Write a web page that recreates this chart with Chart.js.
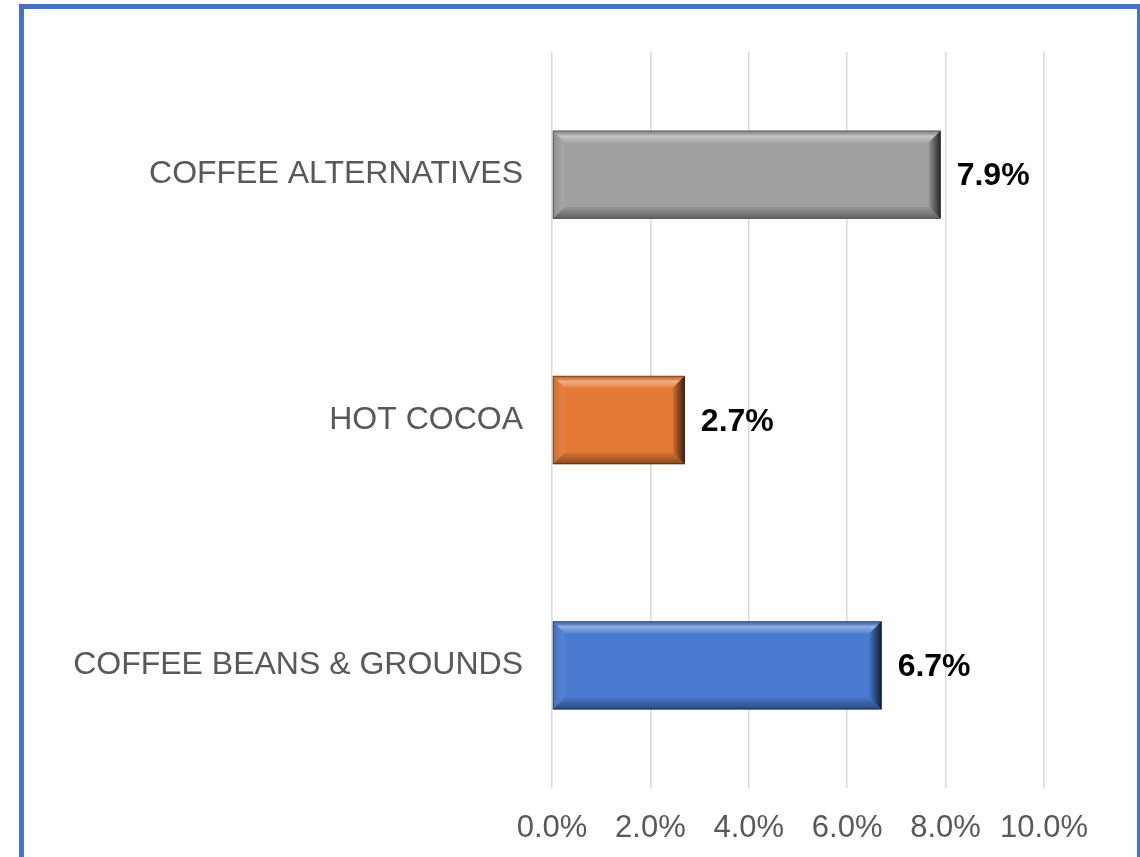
<!DOCTYPE html>
<html>
<head>
<meta charset="utf-8">
<script src="https://cdn.jsdelivr.net/npm/chart.js@4/dist/chart.umd.min.js"></script>
<style>
  html, body { margin: 0; padding: 0; background: #ffffff; overflow: hidden; }
  #frame {
    position: absolute; left: 19px; top: 4px; width: 1123px; height: 900px;
    border: 5px solid #4472c4; box-sizing: border-box; pointer-events: none;
  }
  #wrap { position: absolute; left: 0; top: 0; width: 1140px; height: 857px; }
</style>
</head>
<body>
<div id="wrap"><canvas id="chart"></canvas></div>
<div id="frame"></div>
<script>
// Categories listed top to bottom
const categories = ['COFFEE ALTERNATIVES', 'HOT COCOA', 'COFFEE BEANS & GROUNDS'];
// Share values in percent
const shares = [7.9, 2.7, 6.7];
const barColors = ['#a0a0a0', '#e47a36', '#4a7bd0'];
const xTickValues = [0, 2, 4, 6, 8, 10];

// Beveled look for each bar, drawn on top of the bar rectangles
const bevelPlugin = {
  id: 'bevel',
  afterDatasetsDraw(chart) {
    const ctx = chart.ctx;
    chart.getDatasetMeta(0).data.forEach((bar) => {
      const p = bar.getProps(['x', 'y', 'base', 'height'], true);
      const l = Math.min(p.base, p.x), r = Math.max(p.base, p.x);
      const t = p.y - p.height / 2, b = p.y + p.height / 2;
      const w = 12;
      ctx.save();
      // top facet
      let g = ctx.createLinearGradient(0, t, 0, t + w);
      g.addColorStop(0, 'rgba(0,0,0,0.10)');
      g.addColorStop(0.45, 'rgba(255,255,255,0.40)');
      g.addColorStop(1, 'rgba(255,255,255,0.08)');
      ctx.fillStyle = g;
      ctx.beginPath();
      ctx.moveTo(l, t); ctx.lineTo(r, t); ctx.lineTo(r - w, t + w); ctx.lineTo(l + w, t + w); ctx.closePath();
      ctx.fill();
      // bottom facet
      g = ctx.createLinearGradient(0, b - w, 0, b);
      g.addColorStop(0, 'rgba(0,0,0,0.05)');
      g.addColorStop(1, 'rgba(0,0,0,0.40)');
      ctx.fillStyle = g;
      ctx.beginPath();
      ctx.moveTo(l, b); ctx.lineTo(r, b); ctx.lineTo(r - w, b - w); ctx.lineTo(l + w, b - w); ctx.closePath();
      ctx.fill();
      // left facet
      g = ctx.createLinearGradient(l, 0, l + w, 0);
      g.addColorStop(0, 'rgba(0,0,0,0.12)');
      g.addColorStop(1, 'rgba(255,255,255,0.06)');
      ctx.fillStyle = g;
      ctx.beginPath();
      ctx.moveTo(l, t); ctx.lineTo(l + w, t + w); ctx.lineTo(l + w, b - w); ctx.lineTo(l, b); ctx.closePath();
      ctx.fill();
      // right facet
      g = ctx.createLinearGradient(r - w, 0, r, 0);
      g.addColorStop(0, 'rgba(0,0,0,0.08)');
      g.addColorStop(1, 'rgba(0,0,0,0.75)');
      ctx.fillStyle = g;
      ctx.beginPath();
      ctx.moveTo(r, t); ctx.lineTo(r - w, t + w); ctx.lineTo(r - w, b - w); ctx.lineTo(r, b); ctx.closePath();
      ctx.fill();
      // thin outline
      ctx.strokeStyle = 'rgba(0,0,0,0.35)';
      ctx.lineWidth = 1;
      ctx.strokeRect(l + 0.5, t + 0.5, r - l - 1, b - t - 1);
      ctx.restore();
    });
  }
};

// Value labels at the end of each bar
const valueLabelPlugin = {
  id: 'valueLabels',
  afterDatasetsDraw(chart) {
    const ctx = chart.ctx;
    const data = chart.data.datasets[0].data;
    chart.getDatasetMeta(0).data.forEach((bar, i) => {
      const p = bar.getProps(['x', 'y'], true);
      ctx.save();
      ctx.font = 'bold 32px "Liberation Sans", Arial, sans-serif';
      ctx.fillStyle = '#000000';
      ctx.textAlign = 'left';
      ctx.textBaseline = 'middle';
      ctx.fillText(data[i].toFixed(1) + '%', p.x + 16, p.y + 2);
      ctx.restore();
    });
  }
};

new Chart(document.getElementById('chart'), {
  type: 'bar',
  data: {
    labels: categories,
    datasets: [{
      data: shares,
      backgroundColor: barColors,
      borderWidth: 0,
      barPercentage: 0.36,
      categoryPercentage: 1.0
    }]
  },
  options: {
    indexAxis: 'y',
    responsive: true,
    maintainAspectRatio: false,
    animation: false,
    layout: { padding: { top: 52, right: 96, bottom: 0, left: 0 } },
    plugins: { legend: { display: false }, tooltip: { enabled: false } },
    scales: {
      x: {
        min: 0,
        max: 10,
        afterBuildTicks(scale) { scale.ticks = xTickValues.map(v => ({ value: v })); },
        afterFit(scale) { scale.height = 69; },
        grid: { color: '#d9d9d9', lineWidth: 1.5, drawTicks: false },
        border: { display: false },
        ticks: {
          padding: 22,
          color: '#595959',
          font: { family: '"Liberation Sans", Arial, sans-serif', size: 31 },
          callback: (v) => Number(v).toFixed(1) + '%'
        }
      },
      y: {
        afterFit(scale) { scale.width = 552; },
        grid: { display: false, drawTicks: false },
        border: { display: false },
        ticks: {
          padding: 29,
          color: '#595959',
          font: { family: '"Liberation Sans", Arial, sans-serif', size: 32 }
        }
      }
    }
  },
  plugins: [bevelPlugin, valueLabelPlugin]
});
</script>
</body>
</html>
